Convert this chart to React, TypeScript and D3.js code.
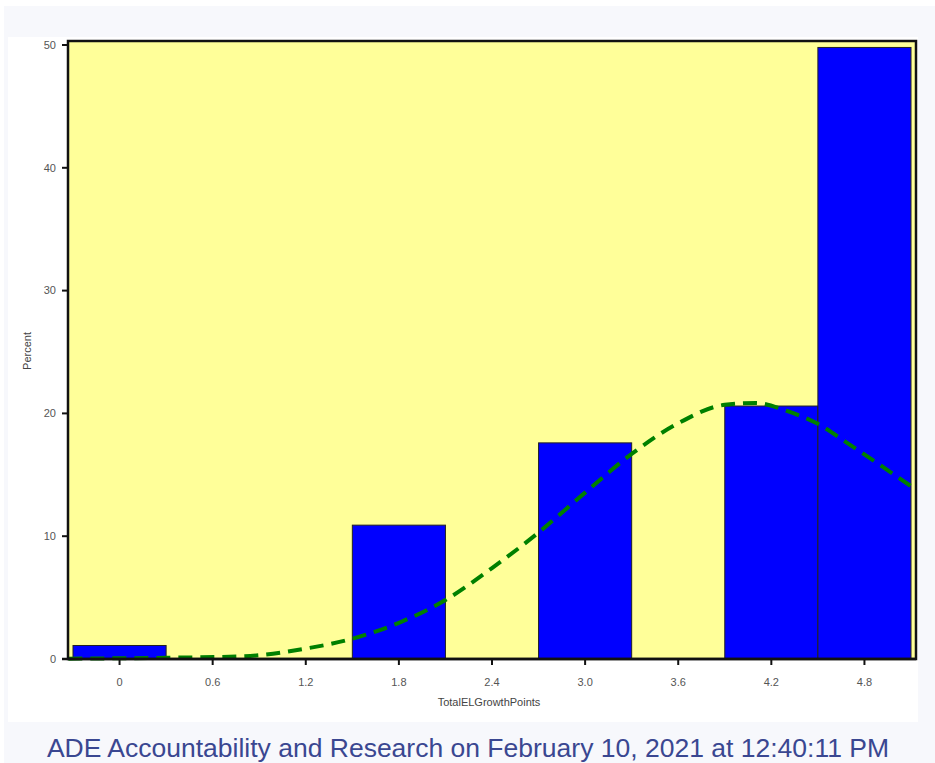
import React from "react";
import * as d3 from "d3";

// histogram bins (midpoints), width 0.6
const binMids = [0, 0.6, 1.2, 1.8, 2.4, 3.0, 3.6, 4.2, 4.8];
const binPercents = [1.1, 0, 0, 10.9, 0, 17.6, 0, 20.6, 49.8];
const binWidth = 0.6;

const xTickLabels = ["0", "0.6", "1.2", "1.8", "2.4", "3.0", "3.6", "4.2", "4.8"];
const yTicks = [0, 10, 20, 30, 40, 50];

// fitted normal curve
const curveX = [-0.33, 0.3, 0.8, 1.2, 1.5, 1.8, 2.1, 2.4, 2.7, 3.0, 3.3, 3.6, 3.9, 4.1, 4.3, 4.5, 4.7, 4.9, 5.12];
const curveY = [0.03, 0.1, 0.22, 0.85, 1.65, 2.95, 4.8, 7.4, 10.3, 13.55, 16.7, 19.2, 20.7, 20.85, 20.2, 19.15, 17.5, 15.8, 13.9];

const W = 935;
const H = 763;
const plotLeft = 68, plotRight = 916, plotTop = 41, plotBottom = 659;
const font = "Arial, 'Liberation Sans', sans-serif";

export default function App() {
  const x = d3.scaleLinear().domain([-0.3, 5.1]).range([73, 911]);
  const y = d3.scaleLinear().domain([0, 50]).range([659, 45]);

  const line = d3
    .line<number>()
    .x((d, i) => x(curveX[i]))
    .y((d) => y(d))
    .curve(d3.curveMonotoneX);

  return (
    <svg
      width={W}
      height={H}
      style={{ position: "absolute", left: 0, top: 0 }}
      fontFamily={font}
    >
      <rect x={0} y={0} width={W} height={H} fill="#ffffff" />
      <rect x={4} y={6} width={W - 4} height={H - 6} fill="#f7f8fc" />
      <rect x={8} y={37} width={910} height={685} fill="#ffffff" />

      {/* plot area */}
      <rect
        x={plotLeft}
        y={plotTop}
        width={plotRight - plotLeft}
        height={plotBottom - plotTop}
        fill="#ffff99"
      />

      {binMids.map((m, i) =>
        binPercents[i] > 0 ? (
          <rect
            key={i}
            x={x(m - binWidth / 2)}
            y={y(binPercents[i])}
            width={x(m + binWidth / 2) - x(m - binWidth / 2)}
            height={y(0) - y(binPercents[i])}
            fill="#0000ff"
            stroke="#222"
            strokeWidth={1}
          />
        ) : null
      )}

      <path
        d={line(curveY) || ""}
        fill="none"
        stroke="#008000"
        strokeWidth={4}
        strokeDasharray="14 8"
      />

      {/* frame */}
      <rect
        x={plotLeft}
        y={plotTop}
        width={plotRight - plotLeft}
        height={plotBottom - plotTop}
        fill="none"
        stroke="#111"
        strokeWidth={2.5}
      />

      {/* y axis */}
      {yTicks.map((t) => (
        <g key={t} transform={`translate(${plotLeft},${y(t)})`}>
          <line x1={-6} x2={0} stroke="#111" strokeWidth={2} />
          <text x={-12} dy="0.35em" textAnchor="end" fontSize={11} fill="#555">
            {t}
          </text>
        </g>
      ))}
      <text
        transform={`translate(31,351) rotate(-90)`}
        textAnchor="middle"
        fontSize={11}
        fill="#444"
      >
        Percent
      </text>

      {/* x axis */}
      <line x1={62} x2={plotRight} y1={plotBottom} y2={plotBottom} stroke="#111" strokeWidth={2.5} />
      {binMids.map((m, i) => (
        <g key={i} transform={`translate(${x(m)},${plotBottom})`}>
          <line y1={0} y2={6} stroke="#111" strokeWidth={2} />
          <text y={27} textAnchor="middle" fontSize={11} fill="#555">
            {xTickLabels[i]}
          </text>
        </g>
      ))}
      <text x={489} y={706} textAnchor="middle" fontSize={11} fill="#444">
        TotalELGrowthPoints
      </text>

      <text x={468} y={757} textAnchor="middle" fontSize={26.5} fill="#3a4791">
        ADE Accountability and Research on February 10, 2021 at 12:40:11 PM
      </text>
    </svg>
  );
}
